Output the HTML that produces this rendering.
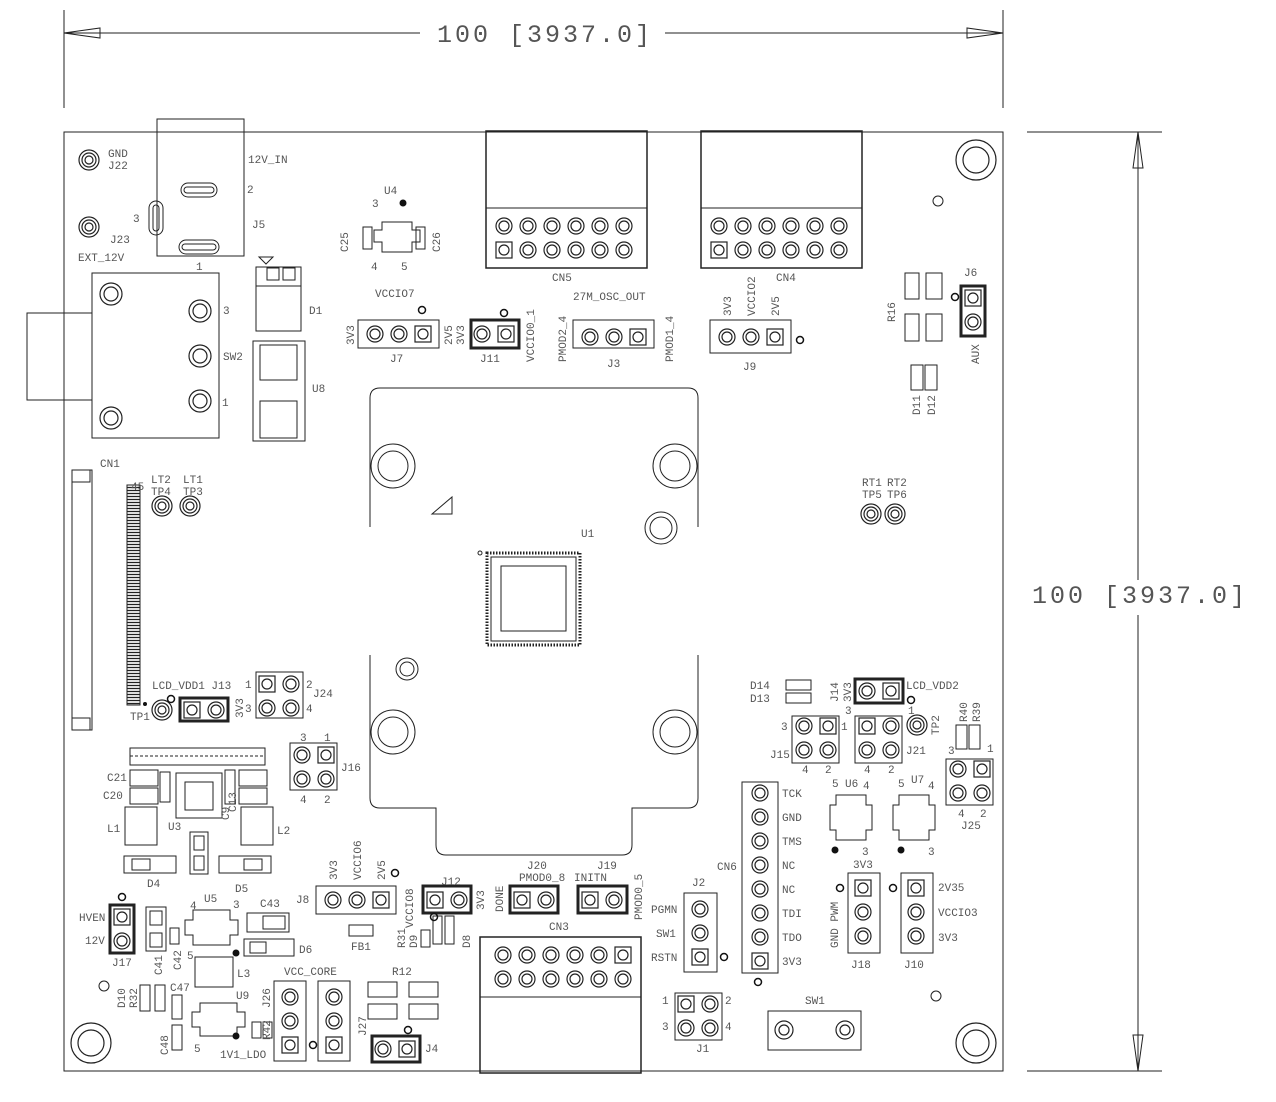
<!DOCTYPE html>
<html><head><meta charset="utf-8"><style>
html,body{margin:0;padding:0;background:#fff;}
svg{display:block;}
text{font-family:"Liberation Mono",monospace;font-size:11px;fill:#555;}
.big{font-size:25px;letter-spacing:3px;fill:#555;}
</style></head><body>
<svg width="1276" height="1102" viewBox="0 0 1276 1102" xmlns="http://www.w3.org/2000/svg">
<defs>
<g id="p" fill="none" stroke="#222" stroke-width="1.2"><circle r="8"/><circle r="5"/></g>
<g id="s" fill="none" stroke="#222" stroke-width="1.2"><rect x="-8" y="-8" width="16" height="16"/><circle r="5"/></g>
<g id="h" fill="none" stroke="#222" stroke-width="1.2"><circle r="20"/><circle r="13"/></g>
<g id="t" fill="none" stroke="#222" stroke-width="1.2"><circle r="10"/><circle r="7"/><circle r="4"/></g>
<pattern id="hatch" width="4" height="3" patternUnits="userSpaceOnUse"><rect width="4" height="3" fill="#fff"/><line x1="0" y1="1.5" x2="4" y2="1.5" stroke="#222" stroke-width="1.3"/></pattern>
</defs>
<g fill="none" stroke="#222" stroke-width="1">
<line x1="64" y1="10" x2="64" y2="108"/><line x1="1003" y1="10" x2="1003" y2="108"/>
<line x1="64" y1="33" x2="420" y2="33"/><line x1="665" y1="33" x2="1003" y2="33"/>
<path d="M64 33 L100 28 L100 38 Z M1003 33 L967 28 L967 38 Z"/>
<line x1="1027" y1="132" x2="1162" y2="132"/><line x1="1027" y1="1071" x2="1162" y2="1071"/>
<line x1="1138" y1="132" x2="1138" y2="580"/><line x1="1138" y1="615" x2="1138" y2="1071"/>
<path d="M1138 132 L1133 168 L1143 168 Z M1138 1071 L1133 1035 L1143 1035 Z"/>
<rect x="64" y="132" width="939" height="939"/>
<circle cx="938" cy="201" r="5"/><circle cx="936" cy="996" r="5"/><circle cx="104" cy="986" r="5"/>
<rect x="157" y="119" width="87" height="137"/>
<rect x="181" y="183" width="36" height="14" rx="7"/><rect x="184" y="187" width="30" height="6" rx="3"/>
<rect x="179" y="240" width="40" height="14" rx="7"/><rect x="182" y="244" width="34" height="6" rx="3"/>
<rect x="149" y="201" width="14" height="34" rx="7"/><rect x="153" y="205" width="6" height="26" rx="3"/>
<rect x="92" y="273" width="127" height="165"/><rect x="27" y="313" width="65" height="87"/>
<path d="M259 257 L273 257 L266 264 Z"/>
<rect x="256" y="267" width="45" height="19"/><rect x="267" y="268" width="12" height="12"/><rect x="283" y="268" width="12" height="12"/>
<rect x="256" y="286" width="45" height="45"/>
<rect x="253" y="341" width="52" height="100"/><rect x="260" y="345" width="37" height="35"/><rect x="260" y="401" width="37" height="37"/>
<rect x="72" y="470" width="20" height="260"/><rect x="72" y="470" width="18" height="12"/><rect x="72" y="718" width="18" height="12"/>
<rect x="127" y="485" width="13" height="220" fill="url(#hatch)"/>
<path d="M370 527 V398 Q370 388 380 388 H688 Q698 388 698 398 V527"/>
<path d="M370 655 V798 Q370 808 380 808 H436 V845 Q436 855 446 855 H622 Q632 855 632 845 V808 H688 Q698 808 698 798 V655"/>
<circle cx="393" cy="466" r="22"/><circle cx="393" cy="466" r="15"/>
<circle cx="675" cy="466" r="22"/><circle cx="675" cy="466" r="15"/>
<circle cx="393" cy="732" r="22"/><circle cx="393" cy="732" r="15"/>
<circle cx="675" cy="732" r="22"/><circle cx="675" cy="732" r="15"/>
<circle cx="661" cy="528" r="16"/><circle cx="661" cy="528" r="11"/>
<circle cx="407" cy="669" r="11"/><circle cx="407" cy="669" r="7"/>
<path d="M432 514 L452 497 L452 514 Z"/>
<rect x="487" y="553" width="93" height="92" stroke-width="3" stroke-dasharray="1.5 1.5"/>
<rect x="491" y="557" width="85" height="84"/><rect x="501" y="566" width="65" height="65"/>
<circle cx="480" cy="553" r="2"/>
<rect x="486" y="131" width="161" height="137" stroke-width="1.5"/><line x1="486" y1="208" x2="647" y2="208"/>
<rect x="701" y="131" width="161" height="137" stroke-width="1.5"/><line x1="701" y1="208" x2="862" y2="208"/>
<rect x="480" y="937" width="161" height="136" stroke-width="1.5"/><line x1="480" y1="997" x2="641" y2="997"/>
<rect x="358" y="320" width="81" height="28"/>
<rect x="471" y="320" width="48" height="28" stroke-width="3"/>
<rect x="573" y="320" width="81" height="28"/>
<rect x="710" y="320" width="81" height="33"/>
<rect x="961" y="286" width="24" height="50" stroke-width="3"/>
<rect x="180" y="698" width="48" height="23" stroke-width="3"/>
<rect x="256" y="672" width="47" height="46"/>
<rect x="290" y="743" width="47" height="47"/>
<rect x="110" y="905" width="24" height="48" stroke-width="3"/>
<rect x="316" y="886" width="80" height="28"/>
<rect x="423" y="886" width="48" height="27" stroke-width="3"/>
<rect x="510" y="886" width="48" height="27" stroke-width="3"/>
<rect x="578" y="886" width="49" height="27" stroke-width="3"/>
<rect x="684" y="893" width="33" height="79"/>
<rect x="742" y="782" width="36" height="191"/>
<rect x="675" y="993" width="47" height="47"/>
<rect x="768" y="1011" width="93" height="39"/>
<rect x="848" y="873" width="32" height="80"/>
<rect x="901" y="873" width="32" height="80"/>
<rect x="855" y="679" width="48" height="24" stroke-width="3"/>
<rect x="792" y="716" width="47" height="47"/>
<rect x="855" y="716" width="47" height="47"/>
<rect x="946" y="759" width="47" height="46"/>
<rect x="274" y="981" width="32" height="80"/>
<rect x="318" y="981" width="32" height="80"/>
<rect x="372" y="1036" width="48" height="26" stroke-width="3"/>
<rect x="368" y="982" width="29" height="15"/><rect x="409" y="982" width="29" height="15"/>
<rect x="368" y="1004" width="29" height="15"/><rect x="409" y="1004" width="29" height="15"/>
<rect x="905" y="273" width="14" height="26"/><rect x="926" y="273" width="16" height="26"/>
<rect x="905" y="314" width="14" height="27"/><rect x="926" y="314" width="16" height="27"/>
<rect x="911" y="365" width="12" height="25"/><rect x="925" y="365" width="12" height="25"/>
<rect x="786" y="680" width="25" height="10"/><rect x="786" y="693" width="25" height="10"/>
<rect x="956" y="725" width="11" height="24"/><rect x="969" y="725" width="11" height="24"/>
<path d="M382 222 H412 V230 H420 V242 H412 V252 H382 V242 H374 V230 H382 Z"/>
<rect x="363" y="227" width="9" height="22"/><rect x="416" y="227" width="9" height="22"/>
<path d="M836 795 H866 V805 H872 V830 H866 V840 H836 V830 H830 V805 H836 Z"/>
<path d="M899 795 H929 V805 H935 V830 H929 V840 H899 V830 H893 V805 H899 Z"/>
<rect x="130" y="748" width="135" height="17"/>
<line x1="130" y1="756" x2="265" y2="756" stroke-dasharray="3 2"/>
<rect x="176" y="773" width="46" height="45"/><rect x="185" y="782" width="28" height="28"/>
<rect x="130" y="770" width="28" height="16"/><rect x="130" y="788" width="28" height="16"/>
<rect x="239" y="770" width="28" height="16"/><rect x="239" y="788" width="28" height="16"/>
<rect x="225" y="770" width="10" height="34"/>
<rect x="160" y="772" width="10" height="30"/>
<rect x="125" y="807" width="32" height="38"/><rect x="241" y="807" width="32" height="38"/>
<rect x="190" y="832" width="18" height="42"/><rect x="194" y="836" width="10" height="14"/><rect x="194" y="856" width="10" height="14"/>
<rect x="124" y="856" width="52" height="17"/><rect x="132" y="859" width="18" height="11"/>
<rect x="219" y="856" width="52" height="17"/><rect x="244" y="859" width="18" height="11"/>
<rect x="146" y="907" width="20" height="44"/><rect x="150" y="911" width="12" height="14"/><rect x="150" y="933" width="12" height="14"/>
<rect x="170" y="928" width="9" height="16"/>
<path d="M193 910 H230 V920 H238 V935 H230 V945 H193 V935 H185 V920 H193 Z"/>
<rect x="247" y="913" width="42" height="19"/><rect x="263" y="916" width="22" height="13"/>
<rect x="244" y="939" width="50" height="17"/><rect x="250" y="942" width="16" height="11"/>
<rect x="195" y="957" width="38" height="30"/>
<path d="M200 1003 H237 V1012 H245 V1027 H237 V1036 H200 V1027 H192 V1012 H200 Z"/>
<rect x="140" y="985" width="10" height="26"/><rect x="155" y="985" width="10" height="26"/>
<rect x="172" y="995" width="10" height="24"/><rect x="172" y="1025" width="10" height="25"/>
<rect x="252" y="1022" width="9" height="16"/><rect x="263" y="1022" width="9" height="16"/>
<rect x="349" y="925" width="24" height="11"/>
<rect x="421" y="930" width="9" height="17"/><rect x="433" y="916" width="9" height="28"/><rect x="445" y="916" width="9" height="28"/>
</g>
<use href="#h" x="91" y="1043"/><use href="#h" x="976" y="1043"/><use href="#h" x="976" y="160"/>
<use href="#t" x="89" y="160"/><use href="#t" x="89" y="227"/>
<g fill="none" stroke="#222" stroke-width="1.2">
<circle cx="111" cy="294" r="11"/><circle cx="111" cy="294" r="7"/>
<circle cx="200" cy="311" r="11"/><circle cx="200" cy="311" r="7"/>
<circle cx="200" cy="356" r="11"/><circle cx="200" cy="356" r="7"/>
<circle cx="200" cy="401" r="11"/><circle cx="200" cy="401" r="7"/>
<circle cx="111" cy="418" r="11"/><circle cx="111" cy="418" r="7"/>
<circle cx="784" cy="1030" r="9"/><circle cx="784" cy="1030" r="5"/>
<circle cx="845" cy="1030" r="9"/><circle cx="845" cy="1030" r="5"/>
</g>
<use href="#t" x="162" y="506"/><use href="#t" x="190" y="506"/>
<use href="#t" x="871" y="514"/><use href="#t" x="895" y="514"/>
<use href="#t" x="162" y="710"/><use href="#t" x="917" y="725"/>
<use href="#p" x="504" y="226"/><use href="#p" x="528" y="226"/><use href="#p" x="552" y="226"/><use href="#p" x="576" y="226"/><use href="#p" x="600" y="226"/><use href="#p" x="624" y="226"/>
<use href="#s" x="504" y="250"/><use href="#p" x="528" y="250"/><use href="#p" x="552" y="250"/><use href="#p" x="576" y="250"/><use href="#p" x="600" y="250"/><use href="#p" x="624" y="250"/>
<use href="#p" x="719" y="226"/><use href="#p" x="743" y="226"/><use href="#p" x="767" y="226"/><use href="#p" x="791" y="226"/><use href="#p" x="815" y="226"/><use href="#p" x="839" y="226"/>
<use href="#s" x="719" y="250"/><use href="#p" x="743" y="250"/><use href="#p" x="767" y="250"/><use href="#p" x="791" y="250"/><use href="#p" x="815" y="250"/><use href="#p" x="839" y="250"/>
<use href="#p" x="503" y="955"/><use href="#p" x="527" y="955"/><use href="#p" x="551" y="955"/><use href="#p" x="575" y="955"/><use href="#p" x="599" y="955"/><use href="#s" x="623" y="955"/>
<use href="#p" x="503" y="979"/><use href="#p" x="527" y="979"/><use href="#p" x="551" y="979"/><use href="#p" x="575" y="979"/><use href="#p" x="599" y="979"/><use href="#p" x="623" y="979"/>
<use href="#p" x="375" y="334"/><use href="#p" x="399" y="334"/><use href="#s" x="423" y="334"/>
<use href="#p" x="482" y="334"/><use href="#s" x="506" y="334"/>
<use href="#p" x="590" y="337"/><use href="#p" x="614" y="337"/><use href="#s" x="638" y="337"/>
<use href="#p" x="727" y="337"/><use href="#p" x="751" y="337"/><use href="#s" x="775" y="337"/>
<use href="#s" x="973" y="298"/><use href="#p" x="973" y="322"/>
<use href="#s" x="192" y="710"/><use href="#p" x="216" y="710"/>
<use href="#s" x="267" y="684"/><use href="#p" x="291" y="684"/><use href="#p" x="267" y="708"/><use href="#p" x="291" y="708"/>
<use href="#p" x="302" y="755"/><use href="#s" x="326" y="755"/><use href="#p" x="302" y="779"/><use href="#p" x="326" y="779"/>
<use href="#s" x="122" y="917"/><use href="#p" x="122" y="941"/>
<use href="#p" x="333" y="900"/><use href="#p" x="357" y="900"/><use href="#s" x="381" y="900"/>
<use href="#s" x="435" y="900"/><use href="#p" x="459" y="900"/>
<use href="#s" x="522" y="900"/><use href="#p" x="546" y="900"/>
<use href="#s" x="590" y="900"/><use href="#p" x="614" y="900"/>
<use href="#p" x="700" y="909"/><use href="#p" x="700" y="933"/><use href="#s" x="700" y="957"/>
<use href="#p" x="760" y="793"/><use href="#p" x="760" y="817"/><use href="#p" x="760" y="841"/><use href="#p" x="760" y="865"/><use href="#p" x="760" y="889"/><use href="#p" x="760" y="913"/><use href="#p" x="760" y="937"/><use href="#s" x="760" y="961"/>
<use href="#s" x="686" y="1004"/><use href="#p" x="710" y="1004"/><use href="#p" x="686" y="1028"/><use href="#p" x="710" y="1028"/>
<use href="#s" x="863" y="888"/><use href="#p" x="863" y="912"/><use href="#p" x="863" y="936"/>
<use href="#s" x="916" y="888"/><use href="#p" x="916" y="912"/><use href="#p" x="916" y="936"/>
<use href="#p" x="867" y="691"/><use href="#s" x="891" y="691"/>
<use href="#p" x="804" y="726"/><use href="#s" x="828" y="726"/><use href="#p" x="804" y="750"/><use href="#p" x="828" y="750"/>
<use href="#s" x="867" y="726"/><use href="#p" x="891" y="726"/><use href="#p" x="867" y="750"/><use href="#p" x="891" y="750"/>
<use href="#p" x="958" y="769"/><use href="#s" x="982" y="769"/><use href="#p" x="958" y="793"/><use href="#p" x="982" y="793"/>
<use href="#p" x="290" y="997"/><use href="#p" x="290" y="1021"/><use href="#s" x="290" y="1045"/>
<use href="#p" x="334" y="997"/><use href="#p" x="334" y="1021"/><use href="#s" x="334" y="1045"/>
<use href="#p" x="383" y="1049"/><use href="#s" x="407" y="1049"/>
<g fill="#111"><circle cx="403" cy="203" r="3.5"/><circle cx="835" cy="850" r="3.5"/><circle cx="901" cy="850" r="3.5"/><circle cx="236" cy="953" r="3.5"/><circle cx="236" cy="1036" r="3.5"/><circle cx="145" cy="704" r="2"/></g>
<g fill="none" stroke="#111" stroke-width="1.5"><circle cx="422" cy="310" r="3.5"/><circle cx="504" cy="313" r="3.5"/><circle cx="800" cy="340" r="3.5"/><circle cx="955" cy="297" r="3.5"/><circle cx="911" cy="700" r="3.5"/><circle cx="840" cy="888" r="3.5"/><circle cx="893" cy="888" r="3.5"/><circle cx="395" cy="873" r="3.5"/><circle cx="122" cy="897" r="3.5"/><circle cx="724" cy="957" r="3.5"/><circle cx="758" cy="982" r="3.5"/><circle cx="313" cy="1045" r="3.5"/><circle cx="408" cy="1030" r="3.5"/><circle cx="171" cy="699" r="3.5"/><circle cx="434" cy="917" r="3.5"/></g>
<text x="437" y="42" class="big">100 [3937.0]</text>
<text x="1032" y="603" class="big">100 [3937.0]</text>
<text x="108" y="157">GND</text><text x="108" y="169">J22</text>
<text x="110" y="243">J23</text><text x="78" y="261">EXT_12V</text>
<text x="248" y="163">12V_IN</text><text x="247" y="193">2</text><text x="133" y="222">3</text><text x="252" y="228">J5</text><text x="196" y="270">1</text>
<text x="223" y="314">3</text><text x="223" y="360">SW2</text><text x="222" y="406">1</text>
<text x="309" y="314">D1</text><text x="312" y="392">U8</text>
<text x="100" y="467">CN1</text><text x="131" y="490">45</text>
<text x="151" y="483">LT2</text><text x="151" y="495">TP4</text><text x="183" y="483">LT1</text><text x="183" y="495">TP3</text>
<text x="384" y="194">U4</text><text x="372" y="207">3</text><text x="371" y="270">4</text><text x="401" y="270">5</text>
<text x="375" y="297">VCCIO7</text><text x="390" y="362">J7</text>
<text x="480" y="362">J11</text>
<text x="573" y="300">27M_OSC_OUT</text><text x="607" y="367">J3</text>
<text x="776" y="281">CN4</text><text x="552" y="281">CN5</text><text x="743" y="370">J9</text>
<text x="964" y="276">J6</text>
<text x="862" y="486">RT1</text><text x="887" y="486">RT2</text><text x="862" y="498">TP5</text><text x="887" y="498">TP6</text>
<text x="581" y="537">U1</text>
<text x="152" y="689">LCD_VDD1 J13</text><text x="130" y="720">TP1</text>
<text x="245" y="688">1</text><text x="306" y="688">2</text><text x="313" y="697">J24</text><text x="245" y="712">3</text><text x="306" y="712">4</text>
<text x="300" y="741">3</text><text x="324" y="741">1</text><text x="341" y="771">J16</text><text x="300" y="803">4</text><text x="324" y="803">2</text>
<text x="107" y="781">C21</text><text x="103" y="799">C20</text><text x="168" y="830">U3</text>
<text x="107" y="832">L1</text><text x="277" y="834">L2</text>
<text x="147" y="887">D4</text><text x="235" y="892">D5</text>
<text x="79" y="921">HVEN</text><text x="85" y="944">12V</text><text x="112" y="966">J17</text>
<text x="204" y="902">U5</text><text x="190" y="909">4</text><text x="233" y="908">3</text><text x="187" y="959">5</text>
<text x="260" y="907">C43</text><text x="299" y="953">D6</text><text x="237" y="977">L3</text><text x="236" y="999">U9</text>
<text x="170" y="991">C47</text><text x="194" y="1052">5</text><text x="220" y="1058">1V1_LDO</text>
<text x="284" y="975">VCC_CORE</text><text x="392" y="975">R12</text><text x="425" y="1052">J4</text>
<text x="296" y="903">J8</text><text x="351" y="950">FB1</text>
<text x="441" y="885">J12</text><text x="527" y="869">J20</text><text x="519" y="881">PMOD0_8</text>
<text x="597" y="869">J19</text><text x="574" y="881">INITN</text>
<text x="549" y="930">CN3</text>
<text x="692" y="886">J2</text><text x="651" y="913">PGMN</text><text x="656" y="937">SW1</text><text x="651" y="961">RSTN</text>
<text x="717" y="870">CN6</text>
<text x="782" y="797">TCK</text><text x="782" y="821">GND</text><text x="782" y="845">TMS</text><text x="782" y="869">NC</text><text x="782" y="893">NC</text><text x="782" y="917">TDI</text><text x="782" y="941">TDO</text><text x="782" y="965">3V3</text>
<text x="662" y="1004">1</text><text x="725" y="1004">2</text><text x="662" y="1030">3</text><text x="725" y="1030">4</text><text x="696" y="1052">J1</text>
<text x="805" y="1004">SW1</text>
<text x="853" y="868">3V3</text><text x="851" y="968">J18</text><text x="904" y="968">J10</text>
<text x="938" y="891">2V35</text><text x="938" y="916">VCCIO3</text><text x="938" y="941">3V3</text>
<text x="750" y="689">D14</text><text x="750" y="702">D13</text>
<text x="906" y="689">LCD_VDD2</text><text x="845" y="714">3</text><text x="908" y="714">1</text>
<text x="781" y="730">3</text><text x="841" y="730">1</text><text x="770" y="758">J15</text><text x="802" y="773">4</text><text x="825" y="773">2</text>
<text x="864" y="773">4</text><text x="888" y="773">2</text><text x="906" y="754">J21</text>
<text x="948" y="754">3</text><text x="987" y="752">1</text><text x="958" y="817">4</text><text x="980" y="817">2</text><text x="961" y="829">J25</text>
<text x="832" y="787">5</text><text x="845" y="787">U6</text><text x="863" y="789">4</text><text x="862" y="855">3</text>
<text x="898" y="787">5</text><text x="911" y="783">U7</text><text x="928" y="789">4</text><text x="928" y="855">3</text>
<g transform="rotate(-90)">
<text x="-345" y="354">3V3</text><text x="-345" y="452">2V5</text><text x="-345" y="464">3V3</text>
<text x="-362" y="534">VCCIO0_1</text><text x="-362" y="566">PMOD2_4</text><text x="-362" y="673">PMOD1_4</text>
<text x="-316" y="731">3V3</text><text x="-316" y="755">VCCIO2</text><text x="-316" y="779">2V5</text>
<text x="-322" y="895">R16</text><text x="-364" y="979">AUX</text>
<text x="-415" y="920">D11</text><text x="-415" y="935">D12</text>
<text x="-252" y="348">C25</text><text x="-252" y="440">C26</text>
<text x="-718" y="243">3V3</text>
<text x="-702" y="838">J14</text><text x="-702" y="851">3V3</text>
<text x="-735" y="939">TP2</text><text x="-722" y="967">R40</text><text x="-722" y="980">R39</text>
<text x="-880" y="337">3V3</text><text x="-880" y="361">VCCIO6</text><text x="-880" y="385">2V5</text>
<text x="-948" y="405">R31</text><text x="-948" y="417">D9</text><text x="-928" y="413">VCCIO8</text><text x="-948" y="470">D8</text>
<text x="-910" y="484">3V3</text><text x="-912" y="503">DONE</text><text x="-920" y="642">PMOD0_5</text>
<text x="-948" y="838">GND PWM</text>
<text x="-975" y="162">C41</text><text x="-970" y="181">C42</text>
<text x="-1008" y="125">D10</text><text x="-1008" y="137">R32</text><text x="-1055" y="168">C48</text>
<text x="-1008" y="270">J26</text><text x="-1040" y="270">R42</text><text x="-1036" y="366">J27</text>
<text x="-820" y="229">C9</text><text x="-812" y="236">C13</text>
</g>
</svg>
</body></html>
